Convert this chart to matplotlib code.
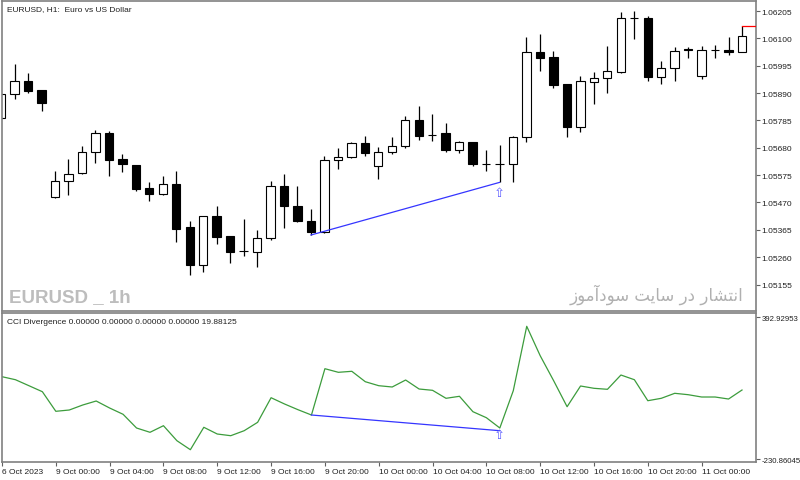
import matplotlib
matplotlib.use('Agg')
import matplotlib.pyplot as plt
import numpy as np

plt.rcParams['font.family'] = ['Liberation Sans', 'DejaVu Sans']

# EURUSD H1 bars (first bar = 6 Oct 2023 20:00)
opens = [1.05794, 1.05885, 1.05937, 1.05903, 1.05491, 1.05551, 1.05582, 1.05663,
         1.05737, 1.05636, 1.05615, 1.05524, 1.05502, 1.05541, 1.05375, 1.05230,
         1.05418, 1.05340, 1.05284, 1.05281, 1.05332, 1.05534, 1.05457, 1.05399,
         1.05355, 1.05633, 1.05643, 1.05697, 1.05609, 1.05663, 1.05688, 1.05788,
         1.05729, 1.05736, 1.05671, 1.05701, 1.05617, 1.05616, 1.05618, 1.05720,
         1.06046, 1.06027, 1.05925, 1.05759, 1.05934, 1.05947, 1.05970, 1.06177,
         1.06177, 1.05950, 1.05985, 1.06058, 1.05954, 1.06056, 1.06056, 1.06046]
highs = [1.05890, 1.06003, 1.05967, 1.05903, 1.05592, 1.05637, 1.05686, 1.05748,
         1.05744, 1.05657, 1.05615, 1.05547, 1.05573, 1.05590, 1.05398, 1.05417,
         1.05455, 1.05340, 1.05406, 1.05364, 1.05554, 1.05580, 1.05532, 1.05445,
         1.05647, 1.05678, 1.05703, 1.05726, 1.05682, 1.05720, 1.05801, 1.05839,
         1.05810, 1.05774, 1.05707, 1.05701, 1.05673, 1.05692, 1.05726, 1.06104,
         1.06117, 1.06050, 1.05925, 1.05957, 1.05970, 1.06070, 1.06200, 1.06206,
         1.06187, 1.06012, 1.06068, 1.06066, 1.06070, 1.06075, 1.06104, 1.06147]
lows = [1.05790, 1.05867, 1.05891, 1.05822, 1.05489, 1.05500, 1.05580, 1.05623,
        1.05573, 1.05586, 1.05515, 1.05477, 1.05500, 1.05317, 1.05193, 1.05204,
        1.05309, 1.05236, 1.05266, 1.05221, 1.05327, 1.05371, 1.05394, 1.05345,
        1.05354, 1.05598, 1.05642, 1.05647, 1.05560, 1.05656, 1.05678, 1.05711,
        1.05707, 1.05665, 1.05660, 1.05609, 1.05590, 1.05547, 1.05547, 1.05701,
        1.05976, 1.05909, 1.05720, 1.05742, 1.05848, 1.05889, 1.05966, 1.06098,
        1.05935, 1.05925, 1.05937, 1.06023, 1.05945, 1.06025, 1.06037, 1.06046]
closes = [1.05886, 1.05937, 1.05899, 1.05852, 1.05552, 1.05579, 1.05663, 1.05737,
          1.05633, 1.05618, 1.05522, 1.05504, 1.05540, 1.05368, 1.05230, 1.05417,
          1.05337, 1.05281, 1.05282, 1.05334, 1.05534, 1.05455, 1.05398, 1.05355,
          1.05634, 1.05643, 1.05697, 1.05660, 1.05663, 1.05688, 1.05788, 1.05726,
          1.05730, 1.05671, 1.05701, 1.05618, 1.05616, 1.05616, 1.05720, 1.06046,
          1.06025, 1.05922, 1.05759, 1.05937, 1.05948, 1.05976, 1.06177, 1.06178,
          1.05953, 1.05985, 1.06050, 1.06054, 1.06056, 1.06057, 1.06046, 1.06108]

# CCI line of the lower window
cci = [131.6, 118.4, 92.2, 65.9, -19.9, -14.2, 7.7, 25.2, -5.5, -33.0,
       -93.0, -111.8, -82.9, -148.6, -188.0, -89.9, -119.3, -126.7, -104.8, -68.1,
       39.6, 12.1, -12.9, -36.1, 166.6, 150.8, 155.2, 109.7, 92.2, 86.5,
       117.1, 77.7, 72.0, 37.0, 45.8, -21.6, -47.9, -93.0, 70.3, 352.2,
       223.5, 114.1, 0.2, 90.9, 80.8, 76.4, 139.0, 118.4, 26.5, 37.0,
       58.9, 52.8, 42.7, 42.7, 33.9, 73.3]

div_bars = [23, 37]          # bullish divergence: price low -> low, cci low -> low
div_cci = [-36.1, -104.8]
ask_price = 1.06147

price_ticks = [1.06205, 1.06100, 1.05995, 1.05890, 1.05785, 1.05680,
               1.05575, 1.05470, 1.05365, 1.05260, 1.05155]
cci_ticks = [392.92953, -230.86045]
time_bars = [0, 4, 8, 12, 16, 20, 24, 28, 32, 36, 40, 44, 48, 52]
time_labels = ['6 Oct 2023', '9 Oct 00:00', '9 Oct 04:00', '9 Oct 08:00',
               '9 Oct 12:00', '9 Oct 16:00', '9 Oct 20:00', '10 Oct 00:00',
               '10 Oct 04:00', '10 Oct 08:00', '10 Oct 12:00', '10 Oct 16:00',
               '10 Oct 20:00', '11 Oct 00:00']

title = 'EURUSD, H1:  Euro vs US Dollar'
ind_label = 'CCI Divergence 0.00000 0.00000 0.00000 0.00000 19.88125'
watermark = 'EURUSD _ 1h'
promo = 'انتشار در سایت سودآموز'


# matplotlib has no arabic shaping, so pick the contextual forms by hand
ar_forms = {  # isolated, final, initial, medial
    'ا': ('\uFE8D', '\uFE8E', None, None),
    'آ': ('\uFE81', '\uFE82', None, None),
    'د': ('\uFEA9', '\uFEAA', None, None),
    'ر': ('\uFEAD', '\uFEAE', None, None),
    'ز': ('\uFEAF', '\uFEB0', None, None),
    'و': ('\uFEED', '\uFEEE', None, None),
    'ن': ('\uFEE5', '\uFEE6', '\uFEE7', '\uFEE8'),
    'ت': ('\uFE95', '\uFE96', '\uFE97', '\uFE98'),
    'ش': ('\uFEB5', '\uFEB6', '\uFEB7', '\uFEB8'),
    'س': ('\uFEB1', '\uFEB2', '\uFEB3', '\uFEB4'),
    'م': ('\uFEE1', '\uFEE2', '\uFEE3', '\uFEE4'),
    'ی': ('\uFBFC', '\uFBFD', '\uFBFE', '\uFBFF'),
}


def shape_fa(text):
    out = []
    for i, ch in enumerate(text):
        if ch not in ar_forms:
            out.append(ch)
            continue
        prev = text[i - 1] if i > 0 else ' '
        nxt = text[i + 1] if i + 1 < len(text) else ' '
        join_prev = prev in ar_forms and ar_forms[prev][2] is not None
        join_next = nxt in ar_forms and ar_forms[ch][2] is not None
        iso, fin, ini, med = ar_forms[ch]
        if join_prev and join_next:
            out.append(med)
        elif join_prev:
            out.append(fin)
        elif join_next:
            out.append(ini)
        else:
            out.append(iso)
    return ''.join(reversed(out))


W, H = 800, 481
fig = plt.figure(figsize=(W / 100, H / 100), dpi=100)
ax = fig.add_axes([2 / W, (H - 312) / H, 754 / W, 310 / H])
ax2 = fig.add_axes([2 / W, (H - 463) / H, 754 / W, 149 / H])

x = np.arange(len(opens))
o = np.array(opens)
c = np.array(closes)
up = c >= o

# candles
ax.vlines(x, lows, highs, color='black', linewidth=0.9, zorder=1)
body_lo = np.minimum(o, c)
body_h = np.maximum(np.abs(c - o), 0.000012)
ax.bar(x, body_h, bottom=body_lo, width=0.62,
       color=np.where(up, 'white', 'black'), edgecolor='black',
       linewidth=0.8, zorder=2)

# ask line
ax.plot([x[-1], 57], [ask_price, ask_price], color='red', linewidth=0.9, zorder=3)

# divergence on price
ax.plot(div_bars, [lows[div_bars[0]], lows[div_bars[1]]], color='#3535ff',
        linewidth=0.9, zorder=3)
ax.annotate('⇧', xy=(div_bars[1], lows[div_bars[1]]), xytext=(0, -2.5),
            textcoords='offset points', ha='center', va='top',
            fontsize=9.5, color='#5f5fff', family=['DejaVu Sans'])

ax.set_xlim(0.067, 56.04)
ax.set_ylim(1.050533, 1.062434)
ax.yaxis.tick_right()
ax.set_yticks(price_ticks)
ax.set_yticklabels(['%.5f' % p for p in price_ticks])
ax.set_xticks([])
ax.tick_params(axis='y', direction='out', length=3, width=0.8, color='#606060',
               labelsize=6, labelcolor='#202020', pad=1)

ax.text(5 / 754, 1 - 8 / 310, title, transform=ax.transAxes, fontsize=6,
        va='center', ha='left', color='#202020')
ax.text(7 / 754, 6 / 310, watermark, transform=ax.transAxes, fontsize=13.5,
        fontweight='bold', va='bottom', ha='left', color='#bdbdbd')
ax.text(1 - 13 / 754, 7 / 310, shape_fa(promo), transform=ax.transAxes,
        fontsize=12, va='bottom', ha='right', color='#b0b0b0',
        family=['DejaVu Sans'])

# indicator window
ax2.plot(x, cci, color='#3c9c3c', linewidth=0.9, zorder=2)
ax2.plot(div_bars, div_cci, color='#3535ff', linewidth=0.9, zorder=3)
ax2.annotate('⇧', xy=(div_bars[1], div_cci[1]), xytext=(0, 2),
             textcoords='offset points', ha='center', va='top',
             fontsize=9.5, color='#5f5fff', family=['DejaVu Sans'])
ax2.set_xlim(0.067, 56.04)
ax2.set_ylim(-241.81, 410.44)
ax2.yaxis.tick_right()
ax2.set_yticks(cci_ticks)
ax2.set_yticklabels(['%.5f' % v for v in cci_ticks])
ax2.tick_params(axis='y', direction='out', length=3, width=0.8, color='#606060',
                labelsize=5.6, labelcolor='#202020', pad=1)
ax2.set_xticks(time_bars)
ax2.set_xticklabels(time_labels, ha='left')
ax2.tick_params(axis='x', direction='out', length=3, width=0.8, color='#606060',
                labelsize=6, labelcolor='#202020', pad=1)
ax2.text(5 / 754, 1 - 9 / 149, ind_label, transform=ax2.transAxes, fontsize=6,
         va='center', ha='left', color='#202020')

for a in (ax, ax2):
    for s in a.spines.values():
        s.set_color('#808080')
        s.set_linewidth(1.2)

fig.savefig('out.png', dpi=100, facecolor='white')
